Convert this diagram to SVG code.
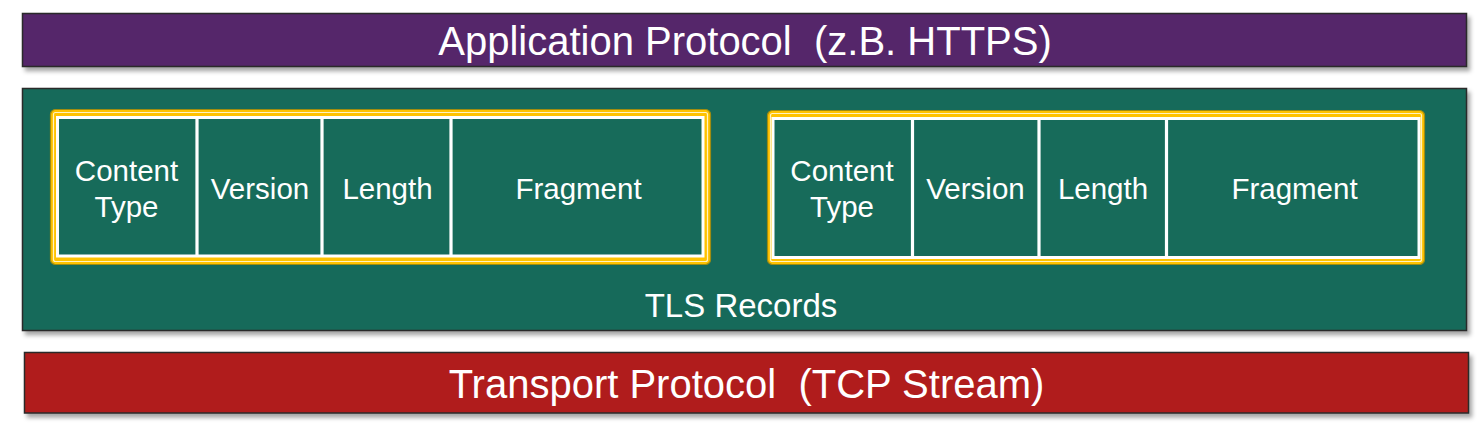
<svg xmlns="http://www.w3.org/2000/svg" width="1482" height="425" viewBox="0 0 1482 425">
<style>
.bar{stroke:#2a2a2a;stroke-width:1.5}
.t{font-family:"Liberation Sans",Arial,Helvetica,sans-serif;fill:#ffffff;text-anchor:middle;white-space:pre}
.big{font-size:40px}
.mid{font-size:33px}
.cell{font-size:29.5px}
.edge{fill:#ffc200;stroke:#a08c10;stroke-width:1.2}
.wl{fill:none;stroke:#fff3c0;stroke-width:1.2}
.inner{fill:#176b5a;stroke:#ffffff;stroke-width:3}
.div{stroke:#ffffff;stroke-width:3.2}
</style>
<defs>
<filter id="sh" x="-5%" y="-20%" width="110%" height="150%">
<feDropShadow dx="3" dy="4" stdDeviation="2" flood-color="#000" flood-opacity="0.35"/>
</filter>
</defs>
<rect width="1482" height="425" fill="#ffffff"/>
<g id="app">
<rect class="bar" x="22.5" y="13.5" width="1444" height="53" fill="#55286a" filter="url(#sh)"/>
<text class="t big" x="745" y="55">Application Protocol  (z.B. HTTPS)</text>
</g>
<g id="tls">
<rect class="bar" x="22.5" y="88.5" width="1444" height="242" fill="#176b5a" filter="url(#sh)"/>
<text class="t mid" x="741" y="317">TLS Records</text>
</g>
<g id="record1">
<rect class="edge" x="50.5" y="109.5" width="660" height="155" rx="5"/>
<rect class="wl" x="53.5" y="112.5" width="654" height="149" rx="2"/>
<rect class="inner" x="57.5" y="117.5" width="645.5" height="138.5"/>
<line class="div" x1="197" y1="117.5" x2="197" y2="256"/>
<line class="div" x1="322" y1="117.5" x2="322" y2="256"/>
<line class="div" x1="451" y1="117.5" x2="451" y2="256"/>
<text class="t cell" x="126.5" y="181">Content</text>
<text class="t cell" x="126.5" y="217">Type</text>
<text class="t cell" x="260" y="199">Version</text>
<text class="t cell" x="387.5" y="199">Length</text>
<text class="t cell" x="578.5" y="199">Fragment</text>
</g>
<g id="record2">
<rect class="edge" x="767.5" y="110.5" width="657" height="154" rx="5"/>
<rect class="wl" x="770.5" y="113.5" width="651" height="148" rx="2"/>
<rect class="inner" x="773" y="118.5" width="646" height="139"/>
<line class="div" x1="912.5" y1="118.5" x2="912.5" y2="257.5"/>
<line class="div" x1="1039" y1="118.5" x2="1039" y2="257.5"/>
<line class="div" x1="1166.5" y1="118.5" x2="1166.5" y2="257.5"/>
<text class="t cell" x="842" y="181">Content</text>
<text class="t cell" x="842" y="217">Type</text>
<text class="t cell" x="975.5" y="199">Version</text>
<text class="t cell" x="1103" y="199">Length</text>
<text class="t cell" x="1294.5" y="199">Fragment</text>
</g>
<g id="transport">
<rect class="bar" x="24.5" y="352.5" width="1444" height="60.5" fill="#b01e1c" filter="url(#sh)"/>
<text class="t big" x="746.5" y="398">Transport Protocol  (TCP Stream)</text>
</g>
<g id="connectors"></g>
</svg>
